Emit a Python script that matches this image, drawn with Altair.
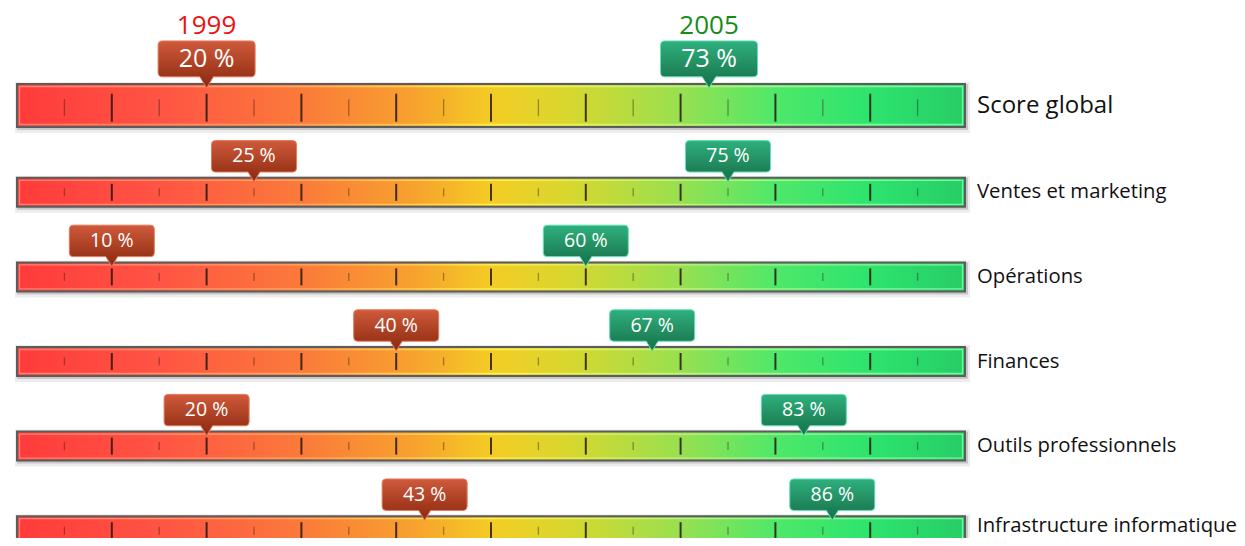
import altair as alt
import pandas as pd

# ---------------- data ----------------
categories = ["Score global", "Ventes et marketing", "Opérations", "Finances",
              "Outils professionnels", "Infrastructure informatique"]
values_1999 = [20, 25, 10, 40, 20, 43]
values_2005 = [73, 75, 60, 67, 83, 86]
years = ["1999", "2005"]
year_colors = ["#ee1111", "#168c16"]
major_ticks = [10, 20, 30, 40, 50, 60, 70, 80, 90]
minor_ticks = [5, 15, 25, 35, 45, 55, 65, 75, 85, 95]
scale_min, scale_max = 0, 100
BIG = categories[0]
LAST = categories[-1]

bars = pd.DataFrame({"cat": categories,
                     "start": [scale_min] * len(categories),
                     "end": [scale_max] * len(categories)})

tick_rows = []
for c in categories:
    for t in major_ticks:
        tick_rows.append({"cat": c, "v": t, "kind": "major"})
    for t in minor_ticks:
        tick_rows.append({"cat": c, "v": t, "kind": "minor"})
ticks = pd.DataFrame(tick_rows)

call_rows = []
for c, a, b in zip(categories, values_1999, values_2005):
    call_rows.append({"cat": c, "year": years[0], "v": a, "label": f"{a} %"})
    call_rows.append({"cat": c, "year": years[1], "v": b, "label": f"{b} %"})
calls = pd.DataFrame(call_rows)

# ---------------- styles ----------------
FONT = "Open Sans"
XSCALE = alt.Scale(domain=[scale_min, scale_max], range=[9, 957])
X = alt.X("v:Q", scale=XSCALE, axis=None)
XS = alt.X("start:Q", scale=XSCALE, axis=None)
Y = alt.Y("cat:N", sort=categories,
          scale=alt.Scale(domain=categories, range=[57.4, 565.0], paddingInner=0, paddingOuter=0),
          axis=None)

def lin(stops, vertical=False):
    return alt.LinearGradient(
        gradient="linear",
        stops=[alt.GradientStop(offset=o, color=c) for o, c in stops],
        x1=0, y1=0, x2=0 if vertical else 1, y2=1 if vertical else 0)

bar_grad = lin([(0, "#ff3b3b"), (0.15, "#ff5444"), (0.3, "#fb7a3a"), (0.42, "#f7a22e"),
                (0.5, "#f4cc24"), (0.58, "#d9d72e"), (0.7, "#98e050"), (0.8, "#4fe86a"),
                (0.9, "#2de46e"), (1, "#27cd66")])
hl_grad = lin([(0, "#ff8070"), (0.3, "#ffa860"), (0.5, "#fff050"), (0.7, "#c0f080"),
               (1, "#70f8a0")])
red_grad = lin([(0, "#d05a3c"), (0.75, "#9a3418"), (1, "#8a2c12")], vertical=True)
green_grad = lin([(0, "#2fb07e"), (0.75, "#1c7e54"), (1, "#17744c")], vertical=True)

CALLOUT = ("M0,0 L-0.14,-0.23 L-0.91,-0.23 Q-1,-0.23 -1,-0.32 L-1,-0.88 "
           "Q-1,-0.97 -0.91,-0.97 L0.91,-0.97 Q1,-0.97 1,-0.88 L1,-0.32 "
           "Q1,-0.23 0.91,-0.23 L0.14,-0.23 Z")


def row_layers(big):
    flt = f"datum.cat {'==' if big else '!='} '{BIG}'"
    h = 43 if big else 29
    yo = -2.2 if big else 0
    base = alt.Chart(bars).transform_filter(flt).encode(x=XS, x2="end:Q", y=Y)
    shadow1 = base.mark_bar(size=h + 8, color="#000000", opacity=0.07,
                            xOffset=-2, x2Offset=5, yOffset=yo + 2)
    shadow2 = base.mark_bar(size=h + 3, color="#000000", opacity=0.16,
                            xOffset=0, x2Offset=3, yOffset=yo + 1.5)
    main = base.mark_bar(size=h, fill=bar_grad, stroke="#5c5c5c", strokeWidth=2, yOffset=yo)
    hl = base.mark_bar(size=h - 5, fillOpacity=0, stroke=hl_grad, strokeWidth=1.3,
                       xOffset=2.5, x2Offset=-2.5, yOffset=yo)
    tb = alt.Chart(ticks).transform_filter(flt)
    tmaj = tb.transform_filter("datum.kind == 'major'").mark_tick(
        size=28 if big else 17, thickness=2, color="#24160e", opacity=0.85).encode(x=X, y=Y)
    tmin = tb.transform_filter("datum.kind == 'minor'").mark_tick(
        size=17 if big else 8, thickness=1.3, color="#24160e", opacity=0.4).encode(x=X, y=Y)
    layers = [shadow1, shadow2, main, hl, tmin, tmaj]
    lab_x = alt.X("end:Q", scale=XSCALE, axis=None)
    if big:
        layers.append(base.mark_text(align="left", baseline="middle", dx=12, dy=yo, font=FONT,
                                     fontSize=24, color="#111111").encode(x=lab_x, text="cat:N"))
    else:
        layers.append(base.transform_filter(f"datum.cat != '{LAST}'").mark_text(
            align="left", baseline="middle", dx=12, font=FONT, fontSize=20.3,
            color="#111111").encode(x=lab_x, text="cat:N"))
        layers.append(base.transform_filter(f"datum.cat == '{LAST}'").mark_text(
            align="left", baseline="middle", dx=12, dy=-5, font=FONT, fontSize=20.3,
            color="#111111").encode(x=lab_x, text="cat:N"))
    for yr, grad, strk in [(years[0], red_grad, "#e8785a"), (years[1], green_grad, "#62e0b8")]:
        cb = alt.Chart(calls).transform_filter(flt).transform_filter(f"datum.year == '{yr}'")
        box = cb.mark_point(shape=CALLOUT, size=9409 if big else 7225, filled=True, fill=grad,
                            stroke=strk, strokeWidth=1, opacity=1,
                            yOffset=-19.7 if big else -10.5).encode(x=X, y=Y)
        txt = cb.mark_text(color="white", font=FONT, fontSize=25 if big else 19.5,
                           baseline="middle", align="center",
                           dy=-48.7 if big else -36).encode(x=X, y=Y, text="label:N")
        layers += [box, txt]
    if big:
        yl = alt.Chart(calls).transform_filter(flt).mark_text(
            font=FONT, fontSize=26, baseline="middle", align="center", dy=-82).encode(
            x=X, y=Y, text="year:N",
            color=alt.Color("year:N", scale=alt.Scale(domain=years, range=year_colors), legend=None))
        layers.append(yl)
    return layers


chart = alt.layer(*(row_layers(True) + row_layers(False))).properties(
    width=1229, height=530, padding=0, autosize="none", background="white"
).configure_view(stroke=None)

chart.save("out.html", embed_options={"renderer": "svg", "actions": False})
